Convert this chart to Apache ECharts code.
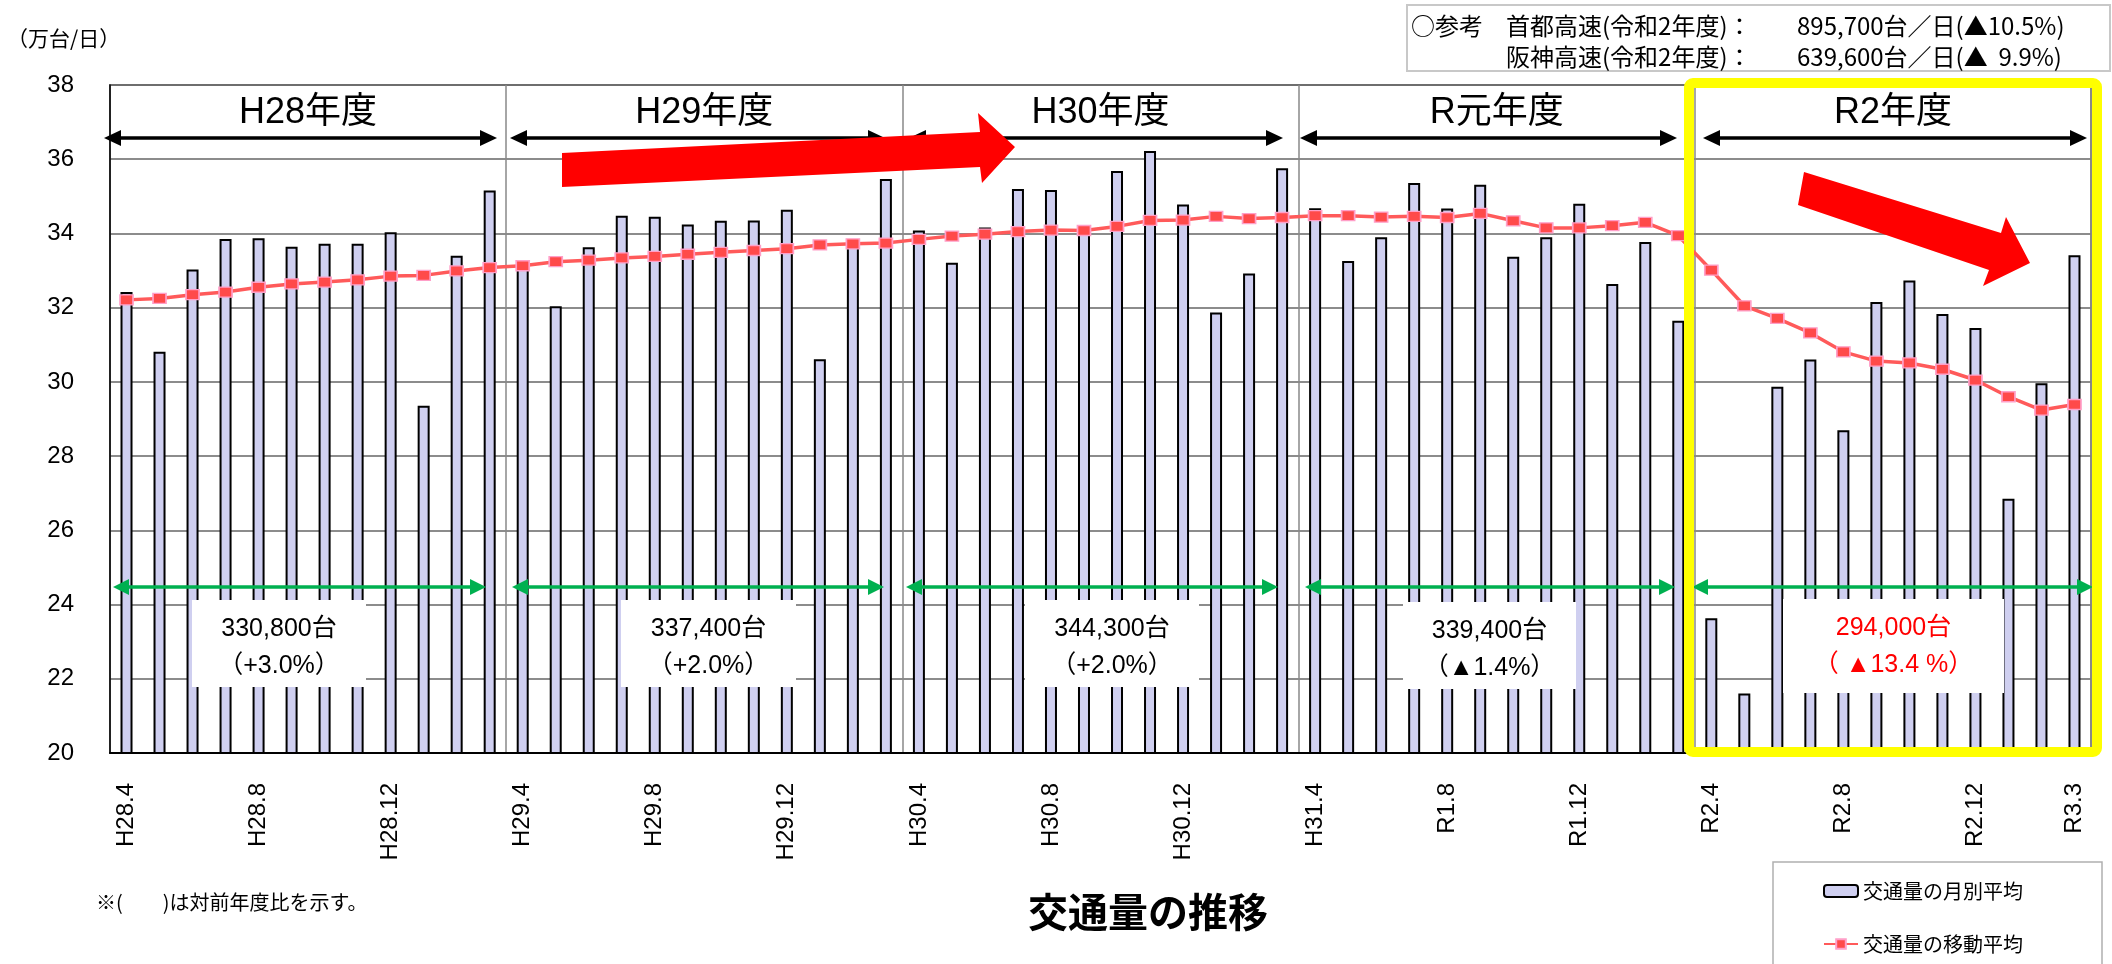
<!DOCTYPE html>
<html><head><meta charset="utf-8">
<script src="https://cdn.jsdelivr.net/npm/echarts@6/dist/echarts.min.js"></script>
<style>html,body{margin:0;padding:0;background:#fff}#c{width:2112px;height:964px}</style>
</head><body><div id="c"></div>
<script>
const categories = [
 'H28.4','H28.5','H28.6','H28.7','H28.8','H28.9','H28.10','H28.11','H28.12','H29.1','H29.2','H29.3',
 'H29.4','H29.5','H29.6','H29.7','H29.8','H29.9','H29.10','H29.11','H29.12','H30.1','H30.2','H30.3',
 'H30.4','H30.5','H30.6','H30.7','H30.8','H30.9','H30.10','H30.11','H30.12','H31.1','H31.2','H31.3',
 'H31.4','R1.5','R1.6','R1.7','R1.8','R1.9','R1.10','R1.11','R1.12','R2.1','R2.2','R2.3',
 'R2.4','R2.5','R2.6','R2.7','R2.8','R2.9','R2.10','R2.11','R2.12','R3.1','R3.2','R3.3'
];
const monthlyAvg = [
 32.42,30.81,33.03,33.85,33.87,33.64,33.72,33.72,34.03,29.36,33.40,35.16,
 33.05,32.04,33.63,34.48,34.45,34.24,34.34,34.35,34.64,30.61,33.65,35.47,
 34.08,33.21,34.16,35.20,35.17,34.02,35.68,36.22,34.78,31.87,32.92,35.76,
 34.68,33.26,33.90,35.36,34.67,35.31,33.37,33.90,34.80,32.64,33.77,31.65,
 23.63,21.60,29.87,30.60,28.70,32.15,32.73,31.83,31.45,26.85,29.96,33.41
];
const movingAvg = [
 32.21,32.25,32.35,32.42,32.55,32.64,32.69,32.75,32.85,32.87,32.99,33.08,
 33.13,33.24,33.28,33.34,33.38,33.44,33.49,33.54,33.59,33.69,33.72,33.74,
 33.84,33.93,33.98,34.05,34.09,34.08,34.19,34.35,34.36,34.46,34.40,34.43,
 34.48,34.48,34.44,34.46,34.43,34.54,34.34,34.15,34.15,34.21,34.30,33.94,
 33.01,32.05,31.71,31.32,30.81,30.56,30.51,30.34,30.05,29.60,29.24,29.39
];
const yearLabels = ['H28年度','H29年度','H30年度','R元年度','R2年度'];
const yearTotals = ['330,800台','337,400台','344,300台','339,400台','294,000台'];
const yearChanges = ['（+3.0%）','（+2.0%）','（+2.0%）','（▲1.4%）','（ ▲13.4 %）'];
const yTicks = { min: 20, max: 38, interval: 2 };
const seriesNames = ['交通量の月別平均','交通量の移動平均'];

const LATIN = '"Liberation Sans", Arial, "Noto Sans CJK JP", sans-serif';
const CJK = '"Noto Sans CJK JP", "Liberation Sans", sans-serif';

// layout (pixels)
const GL = 110, GT = 85, GR = 2091, GB = 753;
const CW = (GR - GL) / categories.length;

const blackArrows = [[104,497],[510,885],[909,1283],[1300,1677],[1703,2087]];
const greenArrows = [[113,486],[512,884],[906,1278],[1305,1675],[1692,2093]];
const boxes = [[192,600,366,687],[621,600,796,687],[1025,600,1199,687],[1403,602,1576,689],[1783,599,2004,693]];

function dblArrow(x1, x2, y, color, lw, hl, hh) {
  return [
    { type:'line', z:50, shape:{x1:x1+hl-2, y1:y, x2:x2-hl+2, y2:y}, style:{stroke:color, lineWidth:lw} },
    { type:'polygon', z:50, shape:{points:[[x1,y],[x1+hl,y-hh],[x1+hl,y+hh]]}, style:{fill:color} },
    { type:'polygon', z:50, shape:{points:[[x2,y],[x2-hl,y-hh],[x2-hl,y+hh]]}, style:{fill:color} }
  ];
}

const graphics = [];
yearLabels.forEach((t, k) => {
  graphics.push({ type:'text', z:50, x: GL + CW*(12*k+6), y: 113,
    style:{ text:t, font:'36px ' + LATIN, fill:'#000', align:'center', verticalAlign:'middle' } });
});
blackArrows.forEach(a => graphics.push(...dblArrow(a[0], a[1], 138, '#000', 3.5, 17, 8)));
greenArrows.forEach(a => graphics.push(...dblArrow(a[0], a[1], 587, '#00b050', 3.5, 16, 8)));
boxes.forEach((b, k) => {
  const red = k === 4;
  graphics.push({ type:'rect', z:60, shape:{x:b[0], y:b[1], width:b[2]-b[0], height:b[3]-b[1]}, style:{fill:'#fff'} });
  const cx = (b[0]+b[2])/2;
  graphics.push({ type:'text', z:61, x:cx, y:b[1]+29, style:{ text:yearTotals[k], font:'25px ' + LATIN, fill: red ? '#ff0000' : '#000', align:'center', verticalAlign:'middle' } });
  graphics.push({ type:'text', z:61, x:cx, y:b[1]+66, style:{ text:yearChanges[k], font:'25px ' + LATIN, fill: red ? '#ff0000' : '#000', align:'center', verticalAlign:'middle' } });
});
graphics.push({ type:'polygon', z:70, shape:{points:[[562,153],[980,132],[978,113],[1015,147],[982,183],[980,167],[562,187]]}, style:{fill:'#ff0000'} });
graphics.push({ type:'polygon', z:70, shape:{points:[[1804,172],[2001,233],[2006,217],[2030,263],[1983,286],[1989,270],[1798,205]]}, style:{fill:'#ff0000'} });
graphics.push({ type:'rect', z:80, shape:{x:1689, y:83, width:408, height:669, r:4}, style:{fill:null, stroke:'#ffff00', lineWidth:10} });
graphics.push({ type:'rect', z:40, shape:{x:1407, y:5, width:703, height:66}, style:{fill:'#fff', stroke:'#c8c8c8', lineWidth:2} });
const refFont = '24px ' + CJK;
graphics.push({ type:'text', z:41, x:1411, y:26, style:{ text:'○参考', font:refFont, fill:'#000', verticalAlign:'middle' } });
graphics.push({ type:'text', z:41, x:1506, y:26, style:{ text:'首都高速(令和2年度)：', font:refFont, fill:'#000', verticalAlign:'middle' } });
graphics.push({ type:'text', z:41, x:1797, y:26, style:{ text:'895,700台／日(▲10.5%)', font:refFont, fill:'#000', verticalAlign:'middle' } });
graphics.push({ type:'text', z:41, x:1506, y:57, style:{ text:'阪神高速(令和2年度)：', font:refFont, fill:'#000', verticalAlign:'middle' } });
graphics.push({ type:'text', z:41, x:1797, y:57, style:{ text:'639,600台／日(▲  9.9%)', font:refFont, fill:'#000', verticalAlign:'middle' } });
graphics.push({ type:'text', z:41, x:7, y:38, style:{ text:'（万台/日）', font:'21px ' + CJK, fill:'#000', verticalAlign:'middle' } });
graphics.push({ type:'text', z:41, x:96, y:902, style:{ text:'※(　　)は対前年度比を示す。', font:'20px ' + CJK, fill:'#000', verticalAlign:'middle' } });
graphics.push({ type:'text', z:41, x:1148, y:912, style:{ text:'交通量の推移', font:'bold 40px ' + CJK, fill:'#000', align:'center', verticalAlign:'middle' } });
// legend frame
graphics.push({ type:'rect', z:0, shape:{x:1773, y:862, width:329, height:120}, style:{fill:'#fff', stroke:'#b0b0b0', lineWidth:1.5} });

const chart = echarts.init(document.getElementById('c'), null, { renderer:'canvas' });
chart.setOption({
  animation: false,
  backgroundColor: '#fff',
  grid: { left: GL, top: GT, right: 2112 - GR, bottom: 964 - GB, show: true, borderColor: '#888', borderWidth: 2 },
  legend: {
    orient: 'vertical', left: 1823, top: 881, height: 80, data: seriesNames,
    itemWidth: 34, itemHeight: 12, itemGap: 33, padding: 0, z: 10,
    textStyle: { fontSize: 20, fontFamily: CJK, color: '#000' }
  },
  xAxis: {
    type: 'category', data: categories, boundaryGap: true,
    axisLine: { lineStyle: { color: '#000', width: 2 } },
    axisTick: { show: false },
    axisLabel: {
      interval: (i) => i % 4 === 0 || i === categories.length - 1,
      rotate: 90, margin: 30, fontSize: 24, fontFamily: LATIN, color: '#000'
    },
    splitLine: { show: true, interval: (i) => i > 0 && i % 12 === 0, lineStyle: { color: '#888', width: 1.5 } }
  },
  yAxis: {
    type: 'value', min: yTicks.min, max: yTicks.max, interval: yTicks.interval,
    axisLine: { show: true, lineStyle: { color: '#000', width: 1.5 } },
    axisTick: { show: false },
    axisLabel: { fontSize: 24, fontFamily: LATIN, color: '#000', margin: 36 },
    splitLine: { lineStyle: { color: '#666', width: 1.5 } }
  },
  series: [
    { name: seriesNames[0], type: 'bar', data: monthlyAvg, barWidth: 12, z: 2,
      itemStyle: { color: '#cfcff0', borderColor: '#000', borderWidth: 2 } },
    { name: seriesNames[1], type: 'line', data: movingAvg, z: 5,
      symbol: 'rect', symbolSize: [13, 10],
      lineStyle: { color: '#ff5a5a', width: 3.5 },
      itemStyle: { color: '#ff4a4a', borderColor: '#ff9fc8', borderWidth: 1.5 } }
  ],
  graphic: graphics
});
</script></body></html>
